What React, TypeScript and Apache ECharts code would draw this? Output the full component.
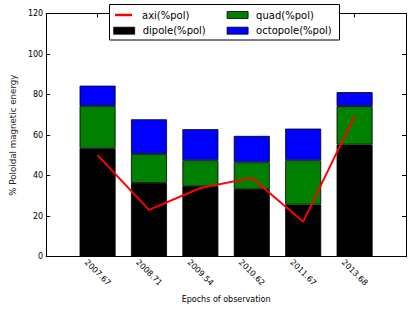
import React, { useEffect, useRef } from "react";
import * as echarts from "echarts";

const categories = ["2007.67", "2008.71", "2009.54", "2010.62", "2011.67", "2013.68"];
const dipole = [53.5, 36.4, 34.8, 33.4, 25.7, 55.3];
const quad = [20.9, 14.3, 12.8, 13.2, 21.9, 19.0];
const octopole = [10.0, 17.1, 15.3, 13.0, 15.6, 6.9];
const axi = [50.1, 23.1, 33.9, 38.9, 17.3, 69.5];

const FONT = "DejaVu Sans";

export default function App() {
  const ref = useRef<HTMLDivElement>(null);
  useEffect(() => {
    document.body.style.margin = "0";
    if (!ref.current) return;
    const chart = echarts.init(ref.current, undefined, { renderer: "svg" });
    // pad with empty slots on both sides so each bar sits one slot from the frame
    const axisCats = ["", ...categories, ""];
    const pad = (arr: number[]) => [null, ...arr, null];
    const barCommon = {
      type: "bar",
      stack: "total",
      barWidth: 36,
      z: 2,
    };
    const legendText = { fontFamily: FONT, fontSize: 10, color: "#000", lineHeight: 12, padding: [0, 0, 0, 3] };
    chart.setOption({
      animation: false,
      textStyle: { fontFamily: FONT },
      grid: { left: 41.7, right: 9, top: 13.5, bottom: 55.3, containLabel: false },
      graphic: [
        {
          type: "rect",
          z: 15,
          shape: { x: 109.5, y: 4.5, width: 230, height: 35.5 },
          style: { fill: "#fff", stroke: "#000", lineWidth: 1 },
        },
      ],
      legend: [
        {
          z: 20,
          padding: 0,
          left: 115,
          top: 9,
          itemWidth: 17,
          itemHeight: 2.5,
          icon: "rect",
          data: [{ name: "axi(%pol)", icon: "rect" }],
          textStyle: { ...legendText, padding: [0, 0, 0, 5] },
        },
        {
          z: 20,
          padding: 0,
          left: 113.3,
          top: 24.7,
          itemWidth: 21,
          itemHeight: 7,
          icon: "rect",
          data: ["dipole(%pol)"],
          itemStyle: { borderColor: "#000", borderWidth: 0.8 },
          textStyle: legendText,
        },
        {
          z: 20,
          padding: 0,
          orient: "vertical",
          left: 226.7,
          top: 9,
          itemWidth: 21,
          itemHeight: 7,
          itemGap: 3.7,
          icon: "rect",
          data: ["quad(%pol)", "octopole(%pol)"],
          itemStyle: { borderColor: "#000", borderWidth: 0.8 },
          textStyle: legendText,
        },
      ],
      xAxis: [
        {
          type: "category",
          data: axisCats,
          boundaryGap: false,
          position: "bottom",
          splitLine: { show: false },
          axisLine: { show: true, onZero: false, lineStyle: { color: "#000", width: 1 } },
          axisTick: { show: true, inside: true, length: 4, interval: 0, lineStyle: { color: "#000" } },
          axisLabel: {
            interval: 0,
            rotate: -45,
            align: "center",
            verticalAlign: "middle",
            margin: 16,
            fontSize: 8,
            color: "#000",
            fontFamily: FONT,
          },
          name: "Epochs of observation",
          nameLocation: "middle",
          nameGap: 39,
          nameTextStyle: { fontSize: 8, color: "#000", fontFamily: FONT },
        },
        {
          type: "category",
          data: axisCats,
          boundaryGap: false,
          position: "top",
          splitLine: { show: false },
          axisLine: { show: true, onZero: false, lineStyle: { color: "#000", width: 1 } },
          axisTick: { show: true, inside: true, length: 4, interval: 0, lineStyle: { color: "#000" } },
          axisLabel: { show: false },
        },
      ],
      yAxis: [
        {
          type: "value",
          min: 0,
          max: 120,
          interval: 20,
          position: "left",
          splitLine: { show: false },
          axisLine: { show: true, onZero: false, lineStyle: { color: "#000", width: 1 } },
          axisTick: { show: true, inside: true, length: 4, lineStyle: { color: "#000" } },
          axisLabel: { fontSize: 8, color: "#000", margin: 3, fontFamily: FONT },
          name: "% Poloidal magnetic energy",
          nameLocation: "middle",
          nameGap: 26,
          nameRotate: 90,
          nameTextStyle: { fontSize: 8.7, color: "#222", fontFamily: FONT },
        },
        {
          type: "value",
          min: 0,
          max: 120,
          interval: 20,
          position: "right",
          splitLine: { show: false },
          axisLine: { show: true, onZero: false, lineStyle: { color: "#000", width: 1 } },
          axisTick: { show: true, inside: true, length: 4, lineStyle: { color: "#000" } },
          axisLabel: { show: false },
        },
      ],
      series: [
        {
          ...barCommon,
          name: "dipole(%pol)",
          data: pad(dipole),
          itemStyle: { color: "#000000", borderColor: "#000", borderWidth: 0.8 },
        },
        {
          ...barCommon,
          name: "quad(%pol)",
          data: pad(quad),
          itemStyle: { color: "#008000", borderColor: "#000", borderWidth: 0.8 },
        },
        {
          ...barCommon,
          name: "octopole(%pol)",
          data: pad(octopole),
          itemStyle: { color: "#0000ff", borderColor: "#000", borderWidth: 0.8 },
        },
        {
          type: "line",
          name: "axi(%pol)",
          data: pad(axi),
          showSymbol: false,
          symbol: "none",
          z: 5,
          lineStyle: { color: "#ff0000", width: 2 },
          itemStyle: { color: "#ff0000" },
        },
      ],
    });
    return () => chart.dispose();
  }, []);
  return <div ref={ref} style={{ width: 415, height: 312 }} />;
}
